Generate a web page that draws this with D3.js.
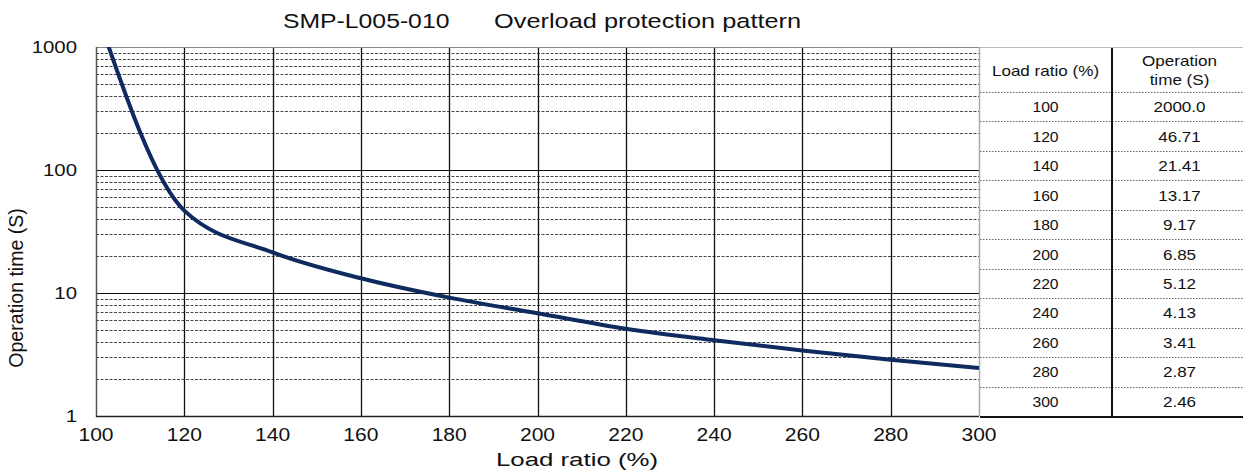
<!DOCTYPE html>
<html>
<head>
<meta charset="utf-8">
<script src="https://cdn.jsdelivr.net/npm/d3@7"></script>
<style>
  html, body { margin: 0; padding: 0; background: #fff; }
  svg { display: block; }
  text { font-family: "Liberation Sans", Arial, sans-serif; fill: #111; }
</style>
</head>
<body>
<svg id="chart" width="1243" height="474"></svg>
<script>
// ---- data ----
const loadRatio = [100, 120, 140, 160, 180, 200, 220, 240, 260, 280, 300];
const operationTime = [2000.0, 46.71, 21.41, 13.17, 9.17, 6.85, 5.12, 4.13, 3.41, 2.87, 2.46];
const operationTimeLabels = ["2000.0", "46.71", "21.41", "13.17", "9.17", "6.85", "5.12", "4.13", "3.41", "2.87", "2.46"];
const xTicks = [100, 120, 140, 160, 180, 200, 220, 240, 260, 280, 300];
const yTicks = [1, 10, 100, 1000];
const titleParts = ["SMP-L005-010", "Overload protection pattern"];
const xTitle = "Load ratio (%)";
const yTitle = "Operation time (S)";
const tableHeaders = [["Load ratio (%)"], ["Operation", "time (S)"]];

// ---- layout ----
const svg = d3.select("#chart");
const plot = { left: 96, right: 979, top: 47, bottom: 416 };
const table = { left: 979, mid: 1112, right: 1243, headerBottom: 92 };

const x = d3.scaleLinear().domain([100, 300]).range([plot.left, plot.right]);
const y = d3.scaleLog().domain([1, 1000]).range([plot.bottom, plot.top]);

function stretchedText(g, tx, ty, str, opts) {
  const sx = opts.sx || 1.22;
  return g.append("text")
    .attr("transform", `translate(${tx},${ty}) rotate(${opts.rotate || 0}) scale(${sx},1)`)
    .attr("text-anchor", opts.anchor || "middle")
    .attr("font-size", opts.size)
    .text(str);
}

// ---- grid ----
const grid = svg.append("g");
const minorVals = [];
[1, 10, 100].forEach(d => { for (let k = 2; k <= 9; k++) minorVals.push(k * d); });
grid.selectAll("line.minor").data(minorVals).join("line")
  .attr("x1", plot.left).attr("x2", plot.right)
  .attr("y1", d => Math.round(y(d)) + 0.5).attr("y2", d => Math.round(y(d)) + 0.5)
  .attr("stroke", "#333").attr("stroke-width", 0.9).attr("stroke-dasharray", "3,1.5");
grid.selectAll("line.major").data([10, 100]).join("line")
  .attr("x1", plot.left).attr("x2", plot.right)
  .attr("y1", d => Math.round(y(d)) + 0.5).attr("y2", d => Math.round(y(d)) + 0.5)
  .attr("stroke", "#111").attr("stroke-width", 1.2);
grid.selectAll("line.v").data(xTicks.slice(1, -1)).join("line")
  .attr("x1", d => Math.round(x(d)) + 0.5).attr("x2", d => Math.round(x(d)) + 0.5)
  .attr("y1", plot.top).attr("y2", plot.bottom)
  .attr("stroke", "#111").attr("stroke-width", 1.3);

// borders
svg.append("line").attr("x1", plot.left).attr("x2", table.right).attr("y1", plot.top + 0.5).attr("y2", plot.top + 0.5)
  .attr("stroke", "#bbb").attr("stroke-width", 1);
svg.append("line").attr("x1", plot.left).attr("x2", plot.right).attr("y1", plot.top + 0.5).attr("y2", plot.top + 0.5)
  .attr("stroke", "#888").attr("stroke-width", 1);
svg.append("line").attr("x1", plot.right + 0.5).attr("x2", plot.right + 0.5).attr("y1", plot.top).attr("y2", plot.bottom)
  .attr("stroke", "#aaa").attr("stroke-width", 1.5);
svg.append("line").attr("x1", plot.left + 0.5).attr("x2", plot.left + 0.5).attr("y1", plot.top).attr("y2", plot.bottom + 1)
  .attr("stroke", "#555").attr("stroke-width", 1.5);
svg.append("line").attr("x1", plot.left).attr("x2", plot.right).attr("y1", plot.bottom + 0.5).attr("y2", plot.bottom + 0.5)
  .attr("stroke", "#222").attr("stroke-width", 1.5);

// ---- curve ----
svg.append("clipPath").attr("id", "clip").append("rect")
  .attr("x", plot.left).attr("y", plot.top).attr("width", plot.right - plot.left).attr("height", plot.bottom - plot.top);
const pts = loadRatio.map((d, i) => [d, operationTime[i]]);
const line = d3.line().x(d => x(d[0])).y(d => y(d[1])).curve(d3.curveMonotoneX);
svg.append("path").attr("clip-path", "url(#clip)")
  .attr("d", line(pts))
  .attr("fill", "none").attr("stroke", "#0f2a5f").attr("stroke-width", 4).attr("stroke-linejoin", "round");

// ---- axes labels ----
const axisG = svg.append("g");
xTicks.forEach(t => stretchedText(axisG, x(t), 441, String(t), { size: 18, sx: 1.17 }));
yTicks.forEach(t => stretchedText(axisG, 77, y(t) + 6, String(t), { size: 17, anchor: "end", sx: 1.2 }));
stretchedText(axisG, 577, 466, xTitle, { size: 19, sx: 1.36 });
stretchedText(axisG, 23, 288, yTitle, { size: 21, rotate: -90, sx: 0.93 });

// title
stretchedText(svg, 283, 28, titleParts[0], { size: 19.5, anchor: "start", sx: 1.27 });
stretchedText(svg, 494, 28, titleParts[1], { size: 19.5, anchor: "start", sx: 1.3 });

// ---- table ----
const tg = svg.append("g");
const rowH = (plot.bottom - table.headerBottom) / loadRatio.length;
const c1 = (table.left + table.mid) / 2, c2 = (table.mid + table.right) / 2 + 2;
stretchedText(tg, c1, 76, tableHeaders[0][0], { size: 14, sx: 1.22 });
stretchedText(tg, c2, 66, tableHeaders[1][0], { size: 14, sx: 1.22 });
stretchedText(tg, c2, 85, tableHeaders[1][1], { size: 14, sx: 1.22 });
const rowDividers = d3.range(loadRatio.length).map(i => table.headerBottom + i * rowH);
tg.selectAll("line.rd").data(rowDividers).join("line")
  .attr("x1", table.left + 1).attr("x2", table.right)
  .attr("y1", d => Math.round(d) + 0.5).attr("y2", d => Math.round(d) + 0.5)
  .attr("stroke", "#666").attr("stroke-width", 1).attr("stroke-dasharray", "1.5,1.5");
loadRatio.forEach((d, i) => {
  const cy = table.headerBottom + (i + 0.5) * rowH + 5.5;
  stretchedText(tg, c1, cy, String(d), { size: 14, sx: 1.12 });
  stretchedText(tg, c2, cy, operationTimeLabels[i], { size: 14, sx: 1.22 });
});
tg.append("line").attr("x1", table.mid).attr("x2", table.mid).attr("y1", plot.top + 1).attr("y2", plot.bottom)
  .attr("stroke", "#111").attr("stroke-width", 2);
tg.append("line").attr("x1", table.left + 1).attr("x2", table.right).attr("y1", plot.bottom + 1).attr("y2", plot.bottom + 1)
  .attr("stroke", "#111").attr("stroke-width", 2);
</script>
</body>
</html>
